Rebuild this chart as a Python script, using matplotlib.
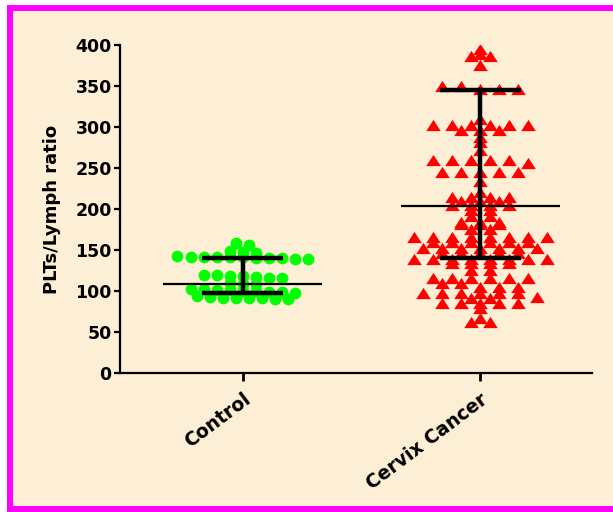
import numpy as np
import matplotlib
matplotlib.use("Agg")
import matplotlib.pyplot as plt
from matplotlib.patches import Rectangle

groups = ["Control", "Cervix Cancer"]
positions = [0, 1]

# PLTs/Lymph ratio
control = [158, 156,
           149, 147, 146,
           143, 142, 142, 141, 141, 141, 140, 140, 140, 139, 139,
           120, 119, 118, 118, 117, 116, 116,
           110, 109, 108,
           103, 102, 101, 101, 100, 100, 99, 99, 98,
           94, 93, 92, 92, 91, 91, 90, 90]

cervix = [395, 389, 387, 386, 376,
          350, 350, 346, 346, 346,
          310,
          303, 303, 303, 303, 303, 303,
          296, 296, 296,
          288, 282, 272,
          260, 260, 260, 260, 260, 256,
          245, 245, 245, 245, 245,
          234, 221,
          215, 215, 215, 215,
          210, 210, 210,
          205, 205, 205, 205,
          199, 199, 192, 192,
          184, 184, 184, 182, 182, 182,
          176, 176,
          166, 166, 166, 166, 166, 166, 166, 166,
          160, 160, 160, 160, 160, 160,
          152, 152, 152, 152, 152, 152, 152,
          146, 146, 146, 146, 146,
          139, 139, 139, 139, 139, 139, 139, 139,
          134, 134, 134, 134,
          126, 126,
          116, 116, 116, 116, 116, 116,
          110, 110, 105, 105, 105,
          98, 98, 98, 98, 98, 98, 93, 91, 91,
          85, 85, 85, 85, 85,
          79, 67, 62, 62]

# summary lines drawn on top (centre line and whiskers)
centre = [108, 204]
lower = [97, 140]
upper = [140, 345]


def row_offsets(values, bin_width, spacing):
    # lay points of the same value band side by side, centred on the group
    values = np.asarray(values, float)
    bins = np.round(values / bin_width)
    offsets = np.zeros(len(values))
    for b in np.unique(bins):
        idx = np.where(bins == b)[0]
        n = len(idx)
        offsets[idx] = (np.arange(n) - (n - 1) / 2) * spacing
    return offsets


beige = "#fcefd5"
fig = plt.figure(figsize=(6.13, 5.12), dpi=100, facecolor="white")
fig.add_artist(Rectangle((9.5 / 613, 3 / 512), 1.2, 501 / 512,
                         transform=fig.transFigure, facecolor=beige,
                         edgecolor="#ff00ff", lw=4.3, zorder=-10))

ax = fig.add_axes([120 / 613, 1 - 373 / 512, 472 / 613, 328 / 512])
ax.set_facecolor("none")

tri = [(-1, -0.77), (1, -0.77), (0, 0.77)]

x_c = positions[0] + row_offsets(control, 10, 0.055)
ax.scatter(x_c, control, s=72, color="#00ff00", marker="o", lw=0, zorder=2)

x_k = positions[1] + row_offsets(cervix, 6, 0.08)
ax.scatter(x_k, cervix, s=110, color="#ff0000", marker=tri, lw=0, zorder=2)

ax.hlines(centre, np.array(positions) - 0.335, np.array(positions) + 0.335,
          color="black", lw=1.6, zorder=3)
ax.vlines(positions, lower, upper, color="black", lw=3.2, zorder=3)
ax.hlines(lower, np.array(positions) - 0.17, np.array(positions) + 0.17,
          color="black", lw=3.2, zorder=3)
ax.hlines(upper, np.array(positions) - 0.17, np.array(positions) + 0.17,
          color="black", lw=3.2, zorder=3)

ax.set_xlim(-0.517, 1.471)
ax.set_ylim(0, 400)
ax.set_yticks(np.arange(0, 401, 50))
ax.set_xticks(positions)
ax.set_xticklabels(groups, rotation=37, ha="right", va="top",
                   rotation_mode="anchor", fontsize=13.5, fontweight="bold",
                   family="DejaVu Sans")
for lab in ax.get_yticklabels():
    lab.set_fontsize(12.5)
    lab.set_fontweight("bold")
    lab.set_family("DejaVu Sans")

for s in ["top", "right"]:
    ax.spines[s].set_visible(False)
for s in ["left", "bottom"]:
    ax.spines[s].set_linewidth(1.6)
ax.tick_params(axis="y", length=4, width=1.6, pad=2)
ax.tick_params(axis="x", length=6, width=2, pad=6)

ax.set_ylabel("PLTs/Lymph ratio", fontsize=13, fontweight="bold",
              family="DejaVu Sans")
ax.yaxis.set_label_coords(-0.125, 0.5)

fig.savefig("out.png", dpi=100, facecolor="white")
